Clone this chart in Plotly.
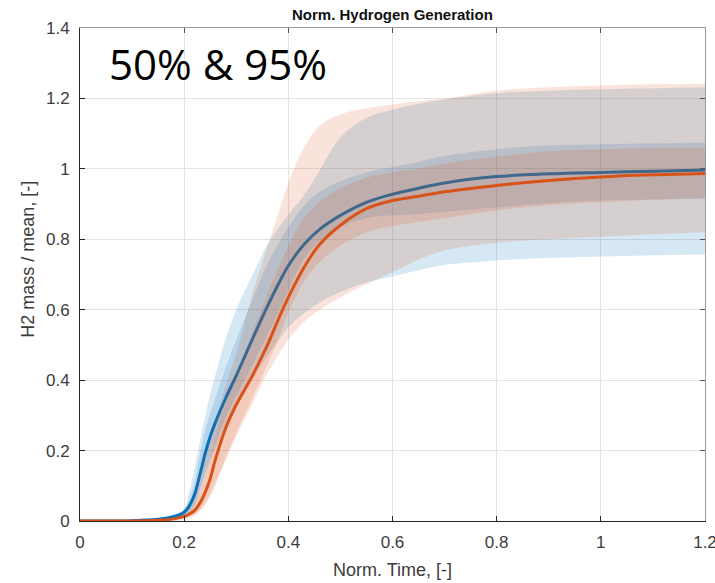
import plotly.graph_objects as go

# Normalised time grid
t = [0, 0.1, 0.15, 0.18, 0.2, 0.21, 0.22, 0.23, 0.24, 0.25, 0.26, 0.28, 0.3, 0.33, 0.36, 0.38,
     0.4, 0.43, 0.46, 0.5, 0.55, 0.6, 0.65, 0.7, 0.8, 0.9, 1.0, 1.1, 1.2]

# Blue series: median, 50% band, 95% band
blue_med = [0, 0.001, 0.005, 0.012, 0.025, 0.043, 0.075, 0.13, 0.19, 0.24, 0.28, 0.35, 0.413,
            0.513, 0.61, 0.67, 0.725, 0.785, 0.828, 0.868, 0.905, 0.928, 0.945, 0.96, 0.978,
            0.986, 0.99, 0.993, 0.997]
blue_50_hi = [0, 0.001, 0.006, 0.014, 0.03, 0.06, 0.11, 0.185, 0.255, 0.305, 0.35, 0.435, 0.515,
              0.625, 0.73, 0.785, 0.835, 0.895, 0.935, 0.965, 0.99, 1.005, 1.02, 1.037, 1.056,
              1.066, 1.07, 1.073, 1.075]
blue_50_lo = [0, 0, 0.004, 0.01, 0.018, 0.03, 0.05, 0.09, 0.135, 0.18, 0.22, 0.295, 0.355,
              0.44, 0.53, 0.59, 0.655, 0.745, 0.795, 0.835, 0.86, 0.868, 0.872, 0.878, 0.89,
              0.903, 0.91, 0.913, 0.915]
blue_95_hi = [0, 0.002, 0.008, 0.02, 0.035, 0.085, 0.15, 0.225, 0.295, 0.36, 0.415, 0.52, 0.60,
              0.695, 0.785, 0.83, 0.87, 0.925, 0.995, 1.09, 1.145, 1.168, 1.185, 1.197, 1.215,
              1.222, 1.226, 1.229, 1.232]
blue_95_lo = [0, 0, 0, 0.002, 0.008, 0.02, 0.045, 0.08, 0.125, 0.17, 0.205, 0.27, 0.33,
              0.40, 0.47, 0.51, 0.55, 0.59, 0.62, 0.65, 0.677, 0.694, 0.712, 0.727, 0.74,
              0.747, 0.751, 0.755, 0.757]

# Orange series: median, 50% band, 95% band
orange_med = [0, 0, 0.002, 0.006, 0.013, 0.02, 0.03, 0.05, 0.08, 0.12, 0.175, 0.265, 0.33,
              0.41, 0.50, 0.57, 0.635, 0.72, 0.785, 0.84, 0.887, 0.91, 0.922, 0.935, 0.953,
              0.967, 0.977, 0.983, 0.987]
orange_50_hi = [0, 0, 0.003, 0.008, 0.02, 0.03, 0.05, 0.08, 0.125, 0.18, 0.24, 0.335, 0.415,
                0.53, 0.645, 0.715, 0.78, 0.86, 0.905, 0.945, 0.975, 0.99, 1.0, 1.015, 1.035,
                1.05, 1.056, 1.059, 1.061]
orange_50_lo = [0, 0, 0.001, 0.004, 0.008, 0.013, 0.02, 0.03, 0.045, 0.068, 0.10, 0.18, 0.25,
                0.345, 0.445, 0.515, 0.59, 0.68, 0.735, 0.782, 0.82, 0.838, 0.85, 0.86, 0.882,
                0.897, 0.905, 0.912, 0.917]
orange_95_hi = [0, 0, 0.002, 0.008, 0.02, 0.035, 0.07, 0.13, 0.185, 0.235, 0.285, 0.385, 0.475,
                0.64, 0.78, 0.87, 0.96, 1.06, 1.122, 1.155, 1.172, 1.183, 1.192, 1.2, 1.222,
                1.232, 1.237, 1.24, 1.242]
orange_95_lo = [0, 0, 0, 0, 0.003, 0.008, 0.015, 0.03, 0.05, 0.078, 0.11, 0.175, 0.24,
                0.33, 0.42, 0.47, 0.515, 0.565, 0.6, 0.635, 0.672, 0.707, 0.742, 0.768, 0.79,
                0.80, 0.807, 0.814, 0.82]

x_ticks = [0, 0.2, 0.4, 0.6, 0.8, 1, 1.2]
x_labels = ["0", "0.2", "0.4", "0.6", "0.8", "1", "1.2"]
y_ticks = [0, 0.2, 0.4, 0.6, 0.8, 1, 1.2, 1.4]

BLUE = "#0072BD"
ORANGE = "#D95319"
BLUE_FILL = "rgba(0,114,189,0.16)"
ORANGE_FILL = "rgba(217,83,25,0.16)"
SM = 1.0

fig = go.Figure()


def band(lo, hi, fill):
    fig.add_trace(go.Scatter(x=t, y=lo, mode="lines", line=dict(width=0, shape="spline", smoothing=SM),
                             hoverinfo="skip", showlegend=False))
    fig.add_trace(go.Scatter(x=t, y=hi, mode="lines", line=dict(width=0, shape="spline", smoothing=SM),
                             fill="tonexty", fillcolor=fill, hoverinfo="skip", showlegend=False))


band(blue_95_lo, blue_95_hi, BLUE_FILL)
band(blue_50_lo, blue_50_hi, BLUE_FILL)
fig.add_trace(go.Scatter(x=t, y=blue_med, mode="lines",
                         line=dict(color=BLUE, width=3, shape="spline", smoothing=SM), showlegend=False))
band(orange_95_lo, orange_95_hi, ORANGE_FILL)
band(orange_50_lo, orange_50_hi, ORANGE_FILL)
fig.add_trace(go.Scatter(x=t, y=orange_med, mode="lines",
                         line=dict(color=ORANGE, width=3, shape="spline", smoothing=SM), showlegend=False))

# empty trace to activate mirror axes (top/right box)
fig.add_trace(go.Scatter(x=[], y=[], xaxis="x2", yaxis="y2", showlegend=False))

tickfont = dict(family="Liberation Sans, Arial, sans-serif", size=17, color="#3c3c3c")
XR = [0, 1.2000001]
YR = [0, 1.4000001]

fig.update_layout(
    width=715, height=583,
    margin=dict(l=80, r=10, t=28, b=62, autoexpand=False),
    paper_bgcolor="white", plot_bgcolor="white",
    xaxis=dict(range=XR, tickvals=x_ticks, ticktext=x_labels, ticklabeloverflow="allow",
               automargin=False,
               ticks="inside", ticklen=5, tickcolor="#262626",
               showline=True, linecolor="#262626", linewidth=1, showgrid=True, gridcolor="#e3e3e3",
               zeroline=False, tickfont=tickfont, ticklabelstandoff=6),
    yaxis=dict(range=YR, tickvals=y_ticks, ticks="inside", ticklen=5, tickcolor="#262626",
               ticklabeloverflow="allow", automargin=False,
               showline=True, linecolor="#262626", linewidth=1, showgrid=True, gridcolor="#e3e3e3",
               zeroline=False, tickfont=tickfont, ticklabelstandoff=6),
    xaxis2=dict(range=XR, tickvals=x_ticks, overlaying="x", side="top", ticks="inside",
                automargin=False,
                ticklen=5, tickcolor="#555555", showline=True, linecolor="#9a9a9a", linewidth=1,
                showgrid=False, zeroline=False, showticklabels=False),
    yaxis2=dict(range=YR, tickvals=y_ticks, overlaying="y", side="right", ticks="inside",
                automargin=False,
                ticklen=5, tickcolor="#555555", showline=True, linecolor="#9a9a9a", linewidth=1,
                showgrid=False, zeroline=False, showticklabels=False),
    annotations=[
        dict(text="<b>Norm. Hydrogen Generation</b>", xref="paper", yref="paper", x=0.5, y=1,
             yshift=14, xanchor="center", yanchor="middle", showarrow=False,
             font=dict(family="Liberation Sans, Arial, sans-serif", size=15, color="#111111")),
        dict(text="Norm. Time, [-]", xref="paper", yref="paper", x=0.5, y=0, yshift=-49,
             xanchor="center", yanchor="middle", showarrow=False,
             font=dict(family="Liberation Sans, Arial, sans-serif", size=18, color="#3c3c3c")),
        dict(text="H2 mass / mean, [-]", xref="paper", yref="paper", x=0, y=0.53, xshift=-52,
             xanchor="center", yanchor="middle", textangle=-90, showarrow=False,
             font=dict(family="Liberation Sans, Arial, sans-serif", size=18, color="#3c3c3c")),
        dict(text="50% &amp; 95%", xref="x", yref="y", x=0.052, y=1.3, xanchor="left", yanchor="middle",
             showarrow=False, font=dict(family="Open Sans, sans-serif", size=42, color="#000000")),
    ],
)

fig.write_html("out.html")
